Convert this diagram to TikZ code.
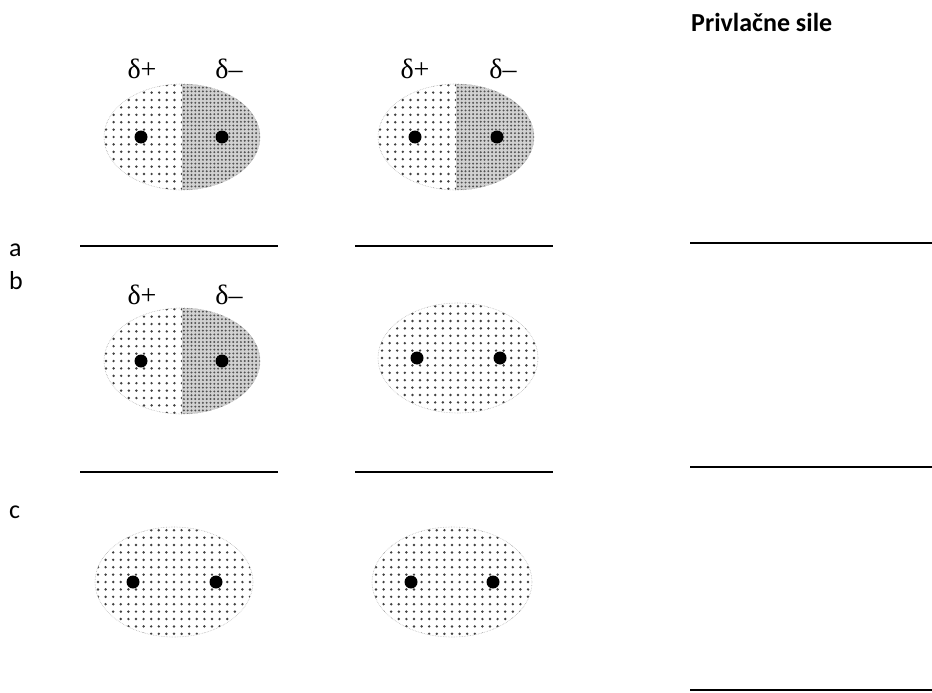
\documentclass[tikz,border=0pt]{standalone}
\usepackage{fontspec}
\setmainfont{Carlito}
\newfontfamily\deltafont{Liberation Serif}
\begin{document}
\begin{tikzpicture}[x=1pt,y=-1pt,
  label/.style={anchor=base west,inner sep=0pt,font=\fontsize{26}{31}\selectfont},
  title/.style={anchor=base west,inner sep=0pt,font=\fontsize{26}{31}\selectfont\bfseries},
  charge/.style={anchor=base,inner sep=0pt,font=\deltafont\fontsize{28}{33}\selectfont},
  blank/.style={line width=1.7pt,black},
  lightdot/.style={black!75},
  densedot/.style={black!68},
  darkbase/.style={fill=black!18},
  rim/.style={black!28,line width=0.6pt,densely dotted},
  atom/.style={fill=black}]

% a molecule with an even spread of charge
\newcommand\plainmol[6]{%
  \begin{scope}
    \clip (#1,#2) ellipse [x radius=#3, y radius=#4];
    \foreach \i in {-11,...,11}{\foreach \j in {-8,...,8}{%
      \fill[lightdot] ({#1+\i*7.6},{#2+\j*7.4}) circle[radius=1.35];}}
  \end{scope}
  \draw[rim] (#1,#2) ellipse [x radius=#3, y radius=#4];
  \fill[atom] ({#1-#5},#2) circle[radius=6.5];
  \fill[atom] ({#1+#6},#2) circle[radius=6.5];
}
% a polar molecule: the right half carries the denser shading
\newcommand\polarmol[6]{%
  \begin{scope}
    \clip (#1,#2) ellipse [x radius=#3, y radius=#4];
    \foreach \i in {-11,...,11}{\foreach \j in {-8,...,8}{%
      \fill[lightdot] ({#1+\i*7.6},{#2+\j*7.4}) circle[radius=1.35];}}
    \fill[darkbase] (#1,{#2-60}) rectangle ({#1+90},{#2+60});
    \foreach \i in {0,...,22}{\foreach \j in {-15,...,15}{%
      \fill[densedot] ({#1+1.9+\i*3.8},{#2+\j*3.8}) circle[radius=1.1];}}
  \end{scope}
  \draw[rim] (#1,#2) ellipse [x radius=#3, y radius=#4];
  \fill[atom] ({#1-#5},#2) circle[radius=6.5];
  \fill[atom] ({#1+#6},#2) circle[radius=6.5];
}

\path[use as bounding box] (0,0) rectangle (932,693);

% heading
\node[title] (head) at (691,32) {Privla\v{c}ne sile};

% row labels
\node[label] (la) at (9,256) {a};
\node[label] (lb) at (9,289) {b};
\node[label] (lc) at (9,518) {c};

% row a
\polarmol{182}{137}{78}{53}{41}{40}
\polarmol{456}{137}{78}{53}{41}{41}
\node[charge] (pa1) at (142,78) {δ+};
\node[charge] (ma1) at (229,78) {δ–};
\node[charge] (pa2) at (415,78) {δ+};
\node[charge] (ma2) at (503,78) {δ–};

% row b
\polarmol{182}{361}{78}{53}{41}{40}
\plainmol{458}{358}{80}{55}{41}{42}
\node[charge] (pb1) at (142,304) {δ+};
\node[charge] (mb1) at (229,304) {δ–};

% row c
\plainmol{174}{582}{79}{55}{41}{42}
\plainmol{452}{582}{80}{55}{41}{41}

% answer blanks
\coordinate (a1s) at (80,246);  \coordinate (a1e) at (278,246);
\coordinate (a2s) at (355,246); \coordinate (a2e) at (553,246);
\coordinate (a3s) at (690,243); \coordinate (a3e) at (932,243);
\coordinate (b1s) at (80,472);  \coordinate (b1e) at (278,472);
\coordinate (b2s) at (355,472); \coordinate (b2e) at (553,472);
\coordinate (b3s) at (690,467); \coordinate (b3e) at (932,467);
\coordinate (c3s) at (690,690); \coordinate (c3e) at (932,690);
\draw[blank] (a1s) -- (a1e);
\draw[blank] (a2s) -- (a2e);
\draw[blank] (a3s) -- (a3e);
\draw[blank] (b1s) -- (b1e);
\draw[blank] (b2s) -- (b2e);
\draw[blank] (b3s) -- (b3e);
\draw[blank] (c3s) -- (c3e);
\end{tikzpicture}
\end{document}
